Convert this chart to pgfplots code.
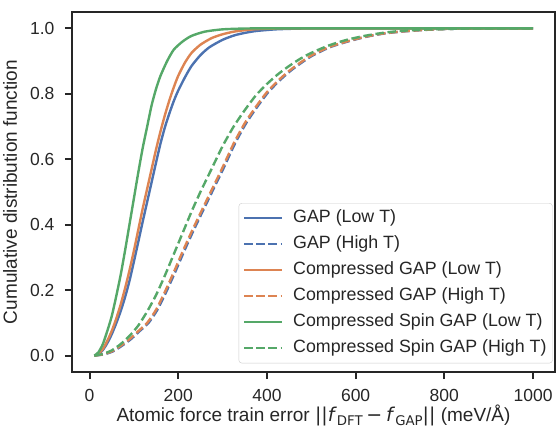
\documentclass[border=0pt]{standalone}
\usepackage{fontspec}
\setmainfont{Liberation Sans}
\newfontfamily\dvs{DejaVu Sans}
\usepackage{pgfplots}
\pgfplotsset{compat=1.18}
\definecolor{sbblue}{HTML}{4C72B0}
\definecolor{sborange}{HTML}{DD8452}
\definecolor{sbgreen}{HTML}{55A868}
\definecolor{sbdark}{HTML}{262626}
\newcommand{\sub}[1]{\raisebox{-0.18em}{\fontsize{13.3bp}{14bp}\selectfont\dvs #1}}
\pgfplotstableread{
x y
11 0
20 0.005
30 0.017
40 0.038
50 0.065
60 0.098
70 0.135
80 0.178
90 0.228
100 0.287
110 0.348
120 0.41
130 0.47
140 0.53
150 0.59
160 0.648
170 0.698
180 0.74
190 0.778
200 0.81
215 0.85
230 0.885
250 0.918
270 0.942
300 0.965
330 0.98
370 0.991
420 0.997
480 0.9995
550 1
650 1
750 1
850 1
1000 1
}\gaplow
\pgfplotstableread{
x y
11 0
33 0.004
53 0.013
73 0.03
93 0.05
113 0.075
133 0.10
153 0.14
173 0.195
193 0.255
213 0.318
233 0.378
253 0.435
278 0.505
303 0.575
328 0.648
353 0.71
378 0.76
403 0.805
428 0.84
453 0.87
478 0.895
503 0.917
543 0.943
583 0.96
623 0.974
663 0.984
703 0.99
753 0.995
803 0.998
853 0.9995
903 1
1000 1
}\gaphigh
\pgfplotstableread{
x y
11 0
20 0.006
30 0.02
40 0.045
50 0.075
60 0.112
70 0.155
80 0.205
90 0.26
100 0.32
110 0.385
120 0.45
130 0.51
140 0.57
150 0.63
160 0.685
170 0.735
180 0.78
190 0.82
200 0.855
215 0.895
230 0.925
250 0.95
275 0.97
300 0.982
330 0.991
370 0.997
420 0.9995
500 1
600 1
700 1
800 1
900 1
1000 1
}\cgaplow
\pgfplotstableread{
x y
11 0
30 0.004
50 0.013
70 0.03
90 0.05
110 0.075
130 0.10
150 0.14
170 0.195
190 0.255
210 0.318
230 0.378
250 0.435
275 0.505
300 0.575
325 0.648
350 0.71
375 0.76
400 0.805
425 0.84
450 0.87
475 0.895
500 0.917
540 0.943
580 0.96
620 0.974
660 0.984
700 0.99
750 0.995
800 0.998
850 0.9995
900 1
1000 1
}\cgaphigh
\pgfplotstableread{
x y
11 0
20 0.01
30 0.035
40 0.075
50 0.12
60 0.18
70 0.245
80 0.32
90 0.40
100 0.48
110 0.56
120 0.635
130 0.70
140 0.765
150 0.815
160 0.855
175 0.90
190 0.935
210 0.96
230 0.977
260 0.99
300 0.997
350 0.9995
400 1
500 1
600 1
700 1
800 1
900 1
1000 1
}\sgaplow
\pgfplotstableread{
x y
11 0
30 0.005
50 0.016
70 0.035
90 0.06
110 0.092
130 0.135
150 0.185
170 0.245
190 0.31
210 0.375
230 0.44
250 0.5
275 0.57
300 0.64
325 0.70
350 0.75
375 0.795
400 0.83
425 0.86
450 0.885
475 0.907
500 0.925
540 0.948
580 0.965
620 0.977
660 0.986
700 0.992
750 0.996
800 0.998
850 0.9995
900 1
1000 1
}\sgaphigh
\begin{document}
\begin{tikzpicture}
\useasboundingbox (-72bp,-57bp) rectangle (484bp,372bp);
\begin{axis}[
  scale only axis, width=483bp, height=360bp,
  xmin=-39.5, xmax=1049.5, ymin=-0.05, ymax=1.05,
  axis line style={sbdark, line width=2bp},
  every tick/.style={sbdark, line width=2bp},
  xtick={0,200,400,600,800,1000},
  ytick={0,0.2,0.4,0.6,0.8,1.0},
  tick align=outside, tick pos=left, major tick length=7bp,
  /pgf/number format/assume math mode=true,
  ticklabel style={font=\fontsize{17.5bp}{19bp}\selectfont, text=sbdark},
  yticklabel style={xshift=-7bp, /pgf/number format/.cd, fixed, fixed zerofill, precision=1},
  xticklabel style={yshift=-7bp, /pgf/number format/.cd, fixed, 1000 sep={}},
  every axis x label/.style={at={(axis description cs:0.5,-0.138)}, anchor=base,
    font=\fontsize{19bp}{21bp}\selectfont, text=sbdark},
  every axis y label/.style={at={(axis description cs:-0.1284,0.5)}, anchor=center, rotate=90,
    font=\fontsize{19bp}{21bp}\selectfont, text=sbdark},
  xlabel={Atomic force train error {\dvs||\textit{f}}\sub{DFT}\hspace{0.2em}{\dvs −}\hspace{0.2em}{\dvs\textit{f}}\sub{GAP}{\dvs||} (meV/Å)},
  ylabel={Cumulative distribution function},
  legend cell align=left,
  legend style={at={(0.9952,0.0242)}, anchor=south east, draw=black!20,
    fill=white, fill opacity=0.8, text opacity=1, rounded corners=3bp,
    font=\fontsize{17.8bp}{19bp}\selectfont, text=sbdark, row sep=5.2bp, column sep=8bp,
    inner xsep=4bp, inner ysep=4.5bp,
    nodes={inner sep=2bp, text height=13bp, text depth=3.8bp}},
  legend image code/.code={\draw[#1, line width=2.4bp] (0bp,0bp) -- (38bp,0bp);},
  every axis plot/.append style={line width=2.4bp, smooth, tension=0.4},
]
\addplot[sbblue] table {\gaplow};
\addlegendentry{GAP (Low T)}
\addplot[sbblue, dash pattern=on 8.5bp off 3.7bp] table {\gaphigh};
\addlegendentry{GAP (High T)}
\addplot[sborange] table {\cgaplow};
\addlegendentry{Compressed GAP (Low T)}
\addplot[sborange, dash pattern=on 8.5bp off 3.7bp] table {\cgaphigh};
\addlegendentry{Compressed GAP (High T)}
\addplot[sbgreen] table {\sgaplow};
\addlegendentry{Compressed Spin GAP (Low T)}
\addplot[sbgreen, dash pattern=on 8.5bp off 3.7bp] table {\sgaphigh};
\addlegendentry{Compressed Spin GAP (High T)}
\end{axis}
\end{tikzpicture}
\end{document}
